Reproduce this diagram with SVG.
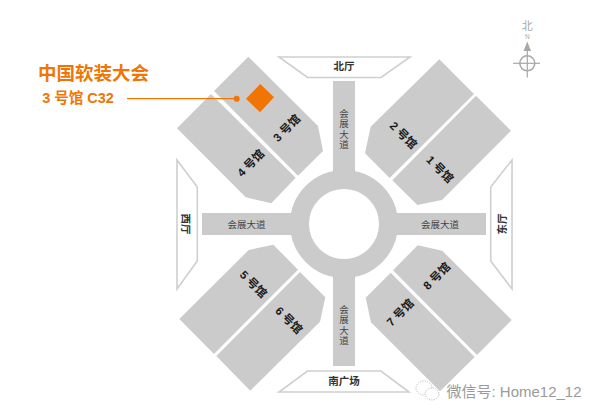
<svg xmlns="http://www.w3.org/2000/svg" width="600" height="420" viewBox="0 0 600 420">
<style>
text{font-family:"Liberation Sans","Noto Sans CJK SC",sans-serif;text-anchor:middle}
.hall{fill:#cbcbcb}
.road{fill:#cbcbcb}
.wing{fill:#fff;stroke:#cfcfcf;stroke-width:1.6}
.hl{font-size:11.500px;font-weight:700;fill:#1a1a1a}
.wl{font-size:10.500px;font-weight:700;fill:#333}
.rl{font-size:9.500px;fill:#444}
.or{fill:#f07505}
</style>
<rect width="600" height="420" fill="#fff"/>
<g id="roads">
<rect class="road" x="333" y="81" width="22" height="285"/>
<rect class="road" x="202" y="213" width="284" height="22"/>
<circle cx="344" cy="224" r="44.500" fill="#fff" stroke="#cbcbcb" stroke-width="19"/>
</g>
<g id="road-north"><text class="rl" x="344" y="116.500">会</text><text class="rl" x="344" y="127">展</text><text class="rl" x="344" y="137.500">大</text><text class="rl" x="344" y="148">道</text></g>
<g id="road-south"><text class="rl" x="344" y="312.500">会</text><text class="rl" x="344" y="323">展</text><text class="rl" x="344" y="333.500">大</text><text class="rl" x="344" y="344">道</text></g>
<g id="road-west"><text class="rl" x="246.500" y="228">会展大道</text></g>
<g id="road-east"><text class="rl" x="440" y="228">会展大道</text></g>
<g id="hall-north"><polygon class="wing" points="279,57 410,57 381,77.500 307.500,77.500"/><text class="wl" x="344" y="70">北厅</text></g>
<g id="hall-south"><polygon class="wing" points="307.500,371 381,371 409,392 279,392"/><text class="wl" x="344" y="385">南广场</text></g>
<g id="hall-west"><polygon class="wing" points="177,160 197.300,187 197.300,261 177,289"/><text class="wl" transform="translate(182 224) rotate(90)">西厅</text></g>
<g id="hall-east"><polygon class="wing" points="512,160 490.700,187 490.700,261 512,289"/><text class="wl" transform="translate(506 224) rotate(-90)">东厅</text></g>
<g id="hall-1"><polygon class="hall" points="476,95.700 511,130.700 442,200 417.300,205 392.300,180.300"/><text class="hl" transform="translate(437 172) rotate(45)">1 号馆</text></g>
<g id="hall-2"><polygon class="hall" points="439.300,59.300 474,94 389.700,178 365,153.300 370.700,126.700"/><text class="hl" transform="translate(400.500 138) rotate(45)">2 号馆</text></g>
<g id="hall-3"><polygon class="hall" points="248.300,56.700 214,91 298,175.700 323,151 318,126"/><polygon class="or" points="260.300,84 274,97.300 260,112.300 246,98.700"/><text class="hl" transform="translate(289.500 131) rotate(-45)">3 号馆</text></g>
<g id="hall-4"><polygon class="hall" points="211,94 177,128.300 245.700,197.300 271.300,203.300 295.700,177.700"/><text class="hl" transform="translate(253.500 166) rotate(-45)">4 号馆</text></g>
<g id="hall-5"><polygon class="hall" points="273.300,244.700 298,269.700 214,354 179.300,319 248.700,250"/><text class="hl" transform="translate(250.500 287) rotate(45)">5 号馆</text></g>
<g id="hall-6"><polygon class="hall" points="300,272 325.300,297.300 320,321.700 250.300,390.700 216.300,356"/><text class="hl" transform="translate(286 323) rotate(45)">6 号馆</text></g>
<g id="hall-7"><polygon class="hall" points="390.700,272.700 474.700,357 440,391.300 371,322.300 365.700,297.700"/><text class="hl" transform="translate(403 315.500) rotate(-45)">7 号馆</text></g>
<g id="hall-8"><polygon class="hall" points="417.700,245.300 442.300,250.700 511.700,320 477,355 393,270.300"/><text class="hl" transform="translate(439.500 279) rotate(-45)">8 号馆</text></g>
<g id="connectors"><line x1="127" y1="98.700" x2="236" y2="98.700" stroke="#f07505" stroke-width="1.300"/><circle class="or" cx="236.700" cy="98.700" r="3"/></g>
<g id="callout"><text class="or" x="93.500" y="80" style="font-size:18.500px;font-weight:700">中国软装大会</text><text class="or" x="78" y="103" style="font-size:14.500px;font-weight:700">3 号馆 C32</text></g>
<g id="compass"><circle cx="527.300" cy="63.300" r="7.500" fill="none" stroke="#a8a8a8" stroke-width="1.500"/><line x1="513" y1="63.300" x2="540" y2="63.300" stroke="#a8a8a8" stroke-width="1.200"/><line x1="527.300" y1="48" x2="527.300" y2="77.500" stroke="#a8a8a8" stroke-width="1.200"/><polygon points="527.300,41.500 531,51 523.500,51" fill="#a8a8a8"/><text x="527.300" y="30" style="font-size:11px" fill="#a8a8a8">北</text><text x="527.300" y="38.500" style="font-size:6.500px" fill="#a8a8a8">N</text></g>
<g id="watermark"><g fill="#fff" stroke="#aaa" stroke-width="0.800" stroke-dasharray="1.200 1.200"><ellipse cx="424" cy="388" rx="8" ry="7"/><ellipse cx="432" cy="394" rx="7" ry="6"/></g><text x="514" y="397" style="font-size:15px" fill="#9a9a9a">微信号: Home12_12</text></g>
</svg>
